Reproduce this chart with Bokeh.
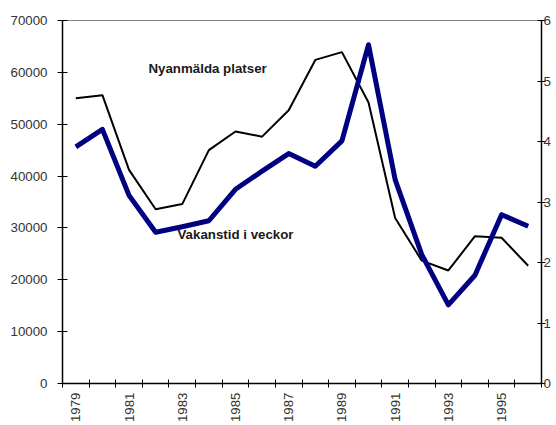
from bokeh.plotting import figure
from bokeh.models import (Range1d, LinearAxis, FixedTicker, NumeralTickFormatter,
                          Label, ColumnDataSource)
from bokeh.embed import file_html
from bokeh.resources import INLINE
import math

# ---- data ----
years = [1979, 1980, 1981, 1982, 1983, 1984, 1985, 1986, 1987, 1988,
         1989, 1990, 1991, 1992, 1993, 1994, 1995, 1996]
nyanmalda_platser = [55000, 55600, 41200, 33600, 34600, 45000, 48600, 47600, 52700,
                     62400, 63900, 54200, 31900, 23700, 21800, 28400, 28100, 22700]
vakanstid_veckor = [3.91, 4.20, 3.11, 2.50, 2.59, 2.69, 3.21, 3.51, 3.80, 3.59,
                    4.01, 5.60, 3.37, 2.13, 1.30, 1.79, 2.79, 2.60]
left_ticks = [0, 10000, 20000, 30000, 40000, 50000, 60000, 70000]
right_ticks = [0, 1, 2, 3, 4, 5, 6]
year_labels = [1979, 1981, 1983, 1985, 1987, 1989, 1991, 1993, 1995]
series_names = ["Nyanmälda platser", "Vakanstid i veckor"]

FONT = "Liberation Sans"
TXT = "#333333"

src = ColumnDataSource(dict(year=years, platser=nyanmalda_platser, vakans=vakanstid_veckor))

p = figure(width=556, height=425, output_backend="svg", toolbar_location=None,
           x_range=Range1d(years[0] - 0.5, years[-1] + 0.5),
           y_range=Range1d(left_ticks[0], left_ticks[-1]),
           min_border_left=62, min_border_right=15, min_border_top=20, min_border_bottom=42)
p.extra_y_ranges = {"right": Range1d(right_ticks[0], right_ticks[-1])}

p.xgrid.visible = False
p.ygrid.visible = False
p.outline_line_color = "#808080"
p.outline_line_width = 1
p.background_fill_color = "white"
p.border_fill_color = "white"

# x axis: labels at odd years, tick marks at category boundaries (minor ticks)
xa = p.xaxis[0]
xa.ticker = FixedTicker(ticks=year_labels,
                        minor_ticks=[y - 0.5 for y in years] + [years[-1] + 0.5])
xa.major_tick_in = 0
xa.major_tick_out = 0
xa.minor_tick_in = 4
xa.minor_tick_out = 4
xa.minor_tick_line_color = "black"
xa.axis_line_color = "black"
xa.axis_line_width = 1.5
xa.major_label_orientation = math.pi / 2
xa.major_label_standoff = 5
xa.major_label_text_font = FONT
xa.major_label_text_font_size = "13.3px"
xa.major_label_text_color = TXT

ya = p.yaxis[0]
ya.ticker = FixedTicker(ticks=left_ticks)
ya.formatter = NumeralTickFormatter(format="0")
ya.minor_tick_line_color = None
ya.major_tick_in = 5
ya.major_tick_out = 5
ya.axis_line_color = "black"
ya.axis_line_width = 1.5
ya.major_label_standoff = 10
ya.major_label_text_font = FONT
ya.major_label_text_font_size = "13.3px"
ya.major_label_text_color = TXT

ra = LinearAxis(y_range_name="right", ticker=FixedTicker(ticks=right_ticks))
ra.minor_tick_line_color = None
ra.major_tick_in = 4
ra.major_tick_out = 4
ra.axis_line_color = "black"
ra.axis_line_width = 1.5
ra.major_label_standoff = -2
ra.major_label_text_font = FONT
ra.major_label_text_font_size = "13.3px"
ra.major_label_text_color = TXT
p.add_layout(ra, "right")

p.line("year", "platser", source=src, line_color="black", line_width=2)
p.line("year", "vakans", source=src, y_range_name="right", line_color="#000080",
       line_width=5, line_join="round")

p.add_layout(Label(x=1981.73, y=60700, text=series_names[0], text_font=FONT,
                   text_font_size="13.3px", text_font_style="bold", text_color="#1a1a1a",
                   text_baseline="middle", text_align="left"))
p.add_layout(Label(x=1982.82, y=28700, text=series_names[1], text_font=FONT,
                   text_font_size="13.3px", text_font_style="bold", text_color="#1a1a1a",
                   text_baseline="middle", text_align="left"))

open("out.html", "w").write(file_html(p, INLINE))
